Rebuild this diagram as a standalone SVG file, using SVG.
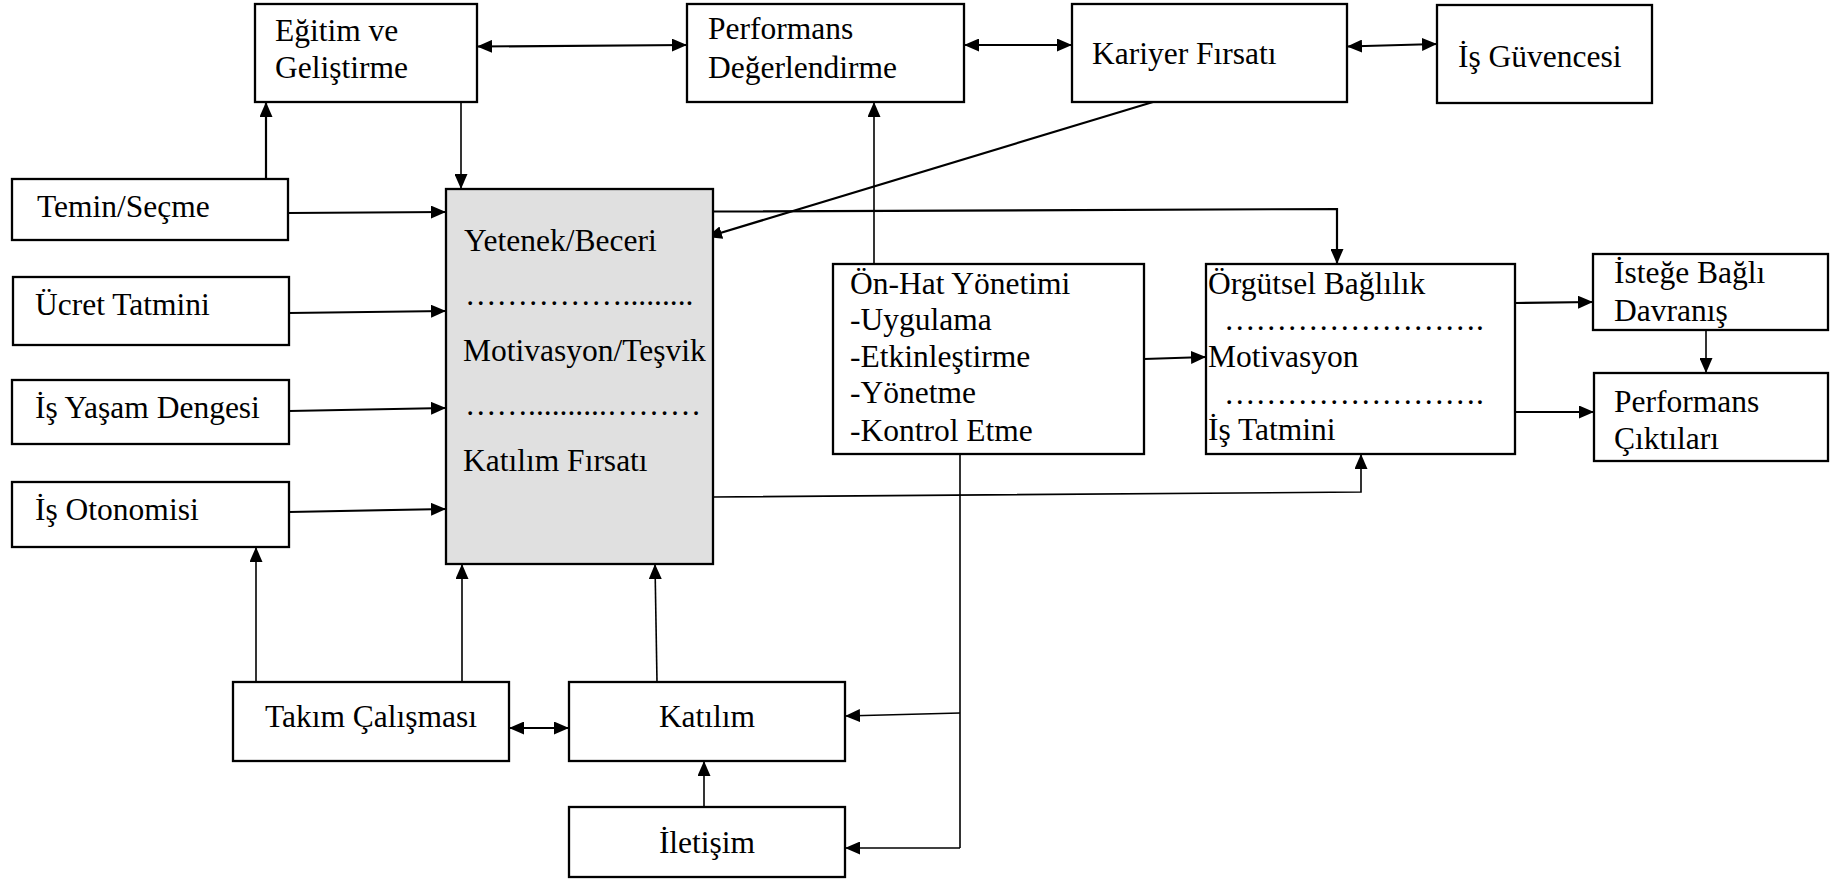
<svg xmlns="http://www.w3.org/2000/svg" width="1848" height="879" viewBox="0 0 1848 879">
  <style>
    .box { fill: #ffffff; stroke: #000000; stroke-width: 2.3; }
    .core { fill: #e0e0e0; stroke: #000000; stroke-width: 2.3; }
    .lbl { font-family: "Liberation Serif", "DejaVu Serif", serif; font-size: 31.5px; fill: #000000; }
    .mid { text-anchor: middle; }
    .ln { fill: none; stroke: #000000; stroke-width: 1.6; }
    .thick { stroke-width: 2.2; }
    .arr { marker-end: url(#head); }
    .dbl { marker-start: url(#head); marker-end: url(#head); }
  </style>
  <defs>
    <marker id="head" viewBox="0 0 15 13" markerWidth="15" markerHeight="13" markerUnits="userSpaceOnUse" refX="15" refY="6.5" orient="auto-start-reverse">
      <path d="M0,0 L15,6.5 L0,13 z" fill="#000000"/>
    </marker>
  </defs>

  <rect width="1848" height="879" fill="#ffffff"/>

  <!-- connectors -->
  <g id="connectors">
    <path class="ln thick dbl" d="M477,46.5 L687,45"/>
    <path class="ln thick dbl" d="M964,45 L1072,45"/>
    <path class="ln thick dbl" d="M1347,46.5 L1437,44"/>
    <path class="ln thick arr" d="M266,179 L266,102"/>
    <path class="ln arr" d="M461,102 L461,189"/>
    <path class="ln thick arr" d="M288,213 L446,212"/>
    <path class="ln thick arr" d="M289,313 L446,311"/>
    <path class="ln thick arr" d="M289,411 L446,408"/>
    <path class="ln thick arr" d="M289,512 L446,509"/>
    <path class="ln thick arr" d="M1153,102 L707,237"/>
    <path class="ln thick arr" d="M713,211.5 L1337,209 L1337,264"/>
    <path class="ln arr" d="M874,264 L874,102"/>
    <path class="ln thick arr" d="M1144,359 L1206,357"/>
    <path class="ln arr" d="M713,497 L1361,492 L1361,454"/>
    <path class="ln thick arr" d="M1515,303 L1593,302"/>
    <path class="ln thick arr" d="M1515,412 L1594,412"/>
    <path class="ln arr" d="M1706,330 L1706,373"/>
    <path class="ln" d="M960,454 L960,848"/>
    <path class="ln arr" d="M960,713 L845,716"/>
    <path class="ln arr" d="M960,848 L845,848"/>
    <path class="ln thick dbl" d="M509,728 L569,728"/>
    <path class="ln arr" d="M704,807 L704,761"/>
    <path class="ln arr" d="M256,682 L256,547"/>
    <path class="ln arr" d="M462,682 L462,564"/>
    <path class="ln arr" d="M657,682 L655,564"/>
  </g>

  <!-- top row -->
  <g id="egitim">
    <rect class="box" x="255" y="4" width="222" height="98"/>
    <text class="lbl" x="275" y="41">Eğitim ve</text>
    <text class="lbl" x="275" y="78">Geliştirme</text>
  </g>
  <g id="performans-degerlendirme">
    <rect class="box" x="687" y="4" width="277" height="98"/>
    <text class="lbl" x="708" y="39">Performans</text>
    <text class="lbl" x="708" y="78">Değerlendirme</text>
  </g>
  <g id="kariyer">
    <rect class="box" x="1072" y="4" width="275" height="98"/>
    <text class="lbl" x="1092" y="64">Kariyer Fırsatı</text>
  </g>
  <g id="is-guvencesi">
    <rect class="box" x="1437" y="5" width="215" height="98"/>
    <text class="lbl" x="1458" y="67">İş Güvencesi</text>
  </g>

  <!-- left column -->
  <g id="temin">
    <rect class="box" x="12" y="179" width="276" height="61"/>
    <text class="lbl" x="37" y="217">Temin/Seçme</text>
  </g>
  <g id="ucret">
    <rect class="box" x="13" y="277" width="276" height="68"/>
    <text class="lbl" x="35" y="315">Ücret Tatmini</text>
  </g>
  <g id="is-yasam">
    <rect class="box" x="12" y="380" width="277" height="64"/>
    <text class="lbl" x="35" y="418">İş Yaşam Dengesi</text>
  </g>
  <g id="is-otonomisi">
    <rect class="box" x="12" y="482" width="277" height="65"/>
    <text class="lbl" x="35" y="520">İş Otonomisi</text>
  </g>

  <!-- central block -->
  <g id="yetenek-motivasyon-katilim">
    <rect class="core" x="446" y="189" width="267" height="375"/>
    <text class="lbl" x="464" y="251">Yetenek/Beceri</text>
    <text class="lbl" x="465" y="305">&#8230;&#8230;&#8230;&#8230;&#8230;.........</text>
    <text class="lbl" x="463" y="361">Motivasyon/Teşvik</text>
    <text class="lbl" x="465" y="415">&#8230;&#8230;..........&#8230;&#8230;&#8230;</text>
    <text class="lbl" x="463" y="471">Katılım Fırsatı</text>
  </g>

  <g id="on-hat">
    <rect class="box" x="833" y="264" width="311" height="190"/>
    <text class="lbl" x="850" y="294">Ön-Hat Yönetimi</text>
    <text class="lbl" x="850" y="330">-Uygulama</text>
    <text class="lbl" x="850" y="367">-Etkinleştirme</text>
    <text class="lbl" x="850" y="403">-Yönetme</text>
    <text class="lbl" x="850" y="441">-Kontrol Etme</text>
  </g>

  <g id="orgutsel">
    <rect class="box" x="1206" y="264" width="309" height="190"/>
    <text class="lbl" x="1208" y="294">Örgütsel Bağlılık</text>
    <text class="lbl" x="1224" y="330">&#8230;&#8230;&#8230;&#8230;&#8230;&#8230;&#8230;&#8230;.</text>
    <text class="lbl" x="1208" y="367">Motivasyon</text>
    <text class="lbl" x="1224" y="404">&#8230;&#8230;&#8230;&#8230;&#8230;&#8230;&#8230;&#8230;.</text>
    <text class="lbl" x="1208" y="440">İş Tatmini</text>
  </g>

  <g id="istege-bagli">
    <rect class="box" x="1593" y="254" width="235" height="76"/>
    <text class="lbl" x="1614" y="283">İsteğe Bağlı</text>
    <text class="lbl" x="1614" y="321">Davranış</text>
  </g>
  <g id="performans-ciktilari">
    <rect class="box" x="1594" y="373" width="234" height="88"/>
    <text class="lbl" x="1614" y="412">Performans</text>
    <text class="lbl" x="1614" y="449">Çıktıları</text>
  </g>

  <!-- bottom row -->
  <g id="takim">
    <rect class="box" x="233" y="682" width="276" height="79"/>
    <text class="lbl mid" x="371" y="727">Takım Çalışması</text>
  </g>
  <g id="katilim">
    <rect class="box" x="569" y="682" width="276" height="79"/>
    <text class="lbl mid" x="707" y="727">Katılım</text>
  </g>
  <g id="iletisim">
    <rect class="box" x="569" y="807" width="276" height="70"/>
    <text class="lbl mid" x="707" y="853">İletişim</text>
  </g>
</svg>
